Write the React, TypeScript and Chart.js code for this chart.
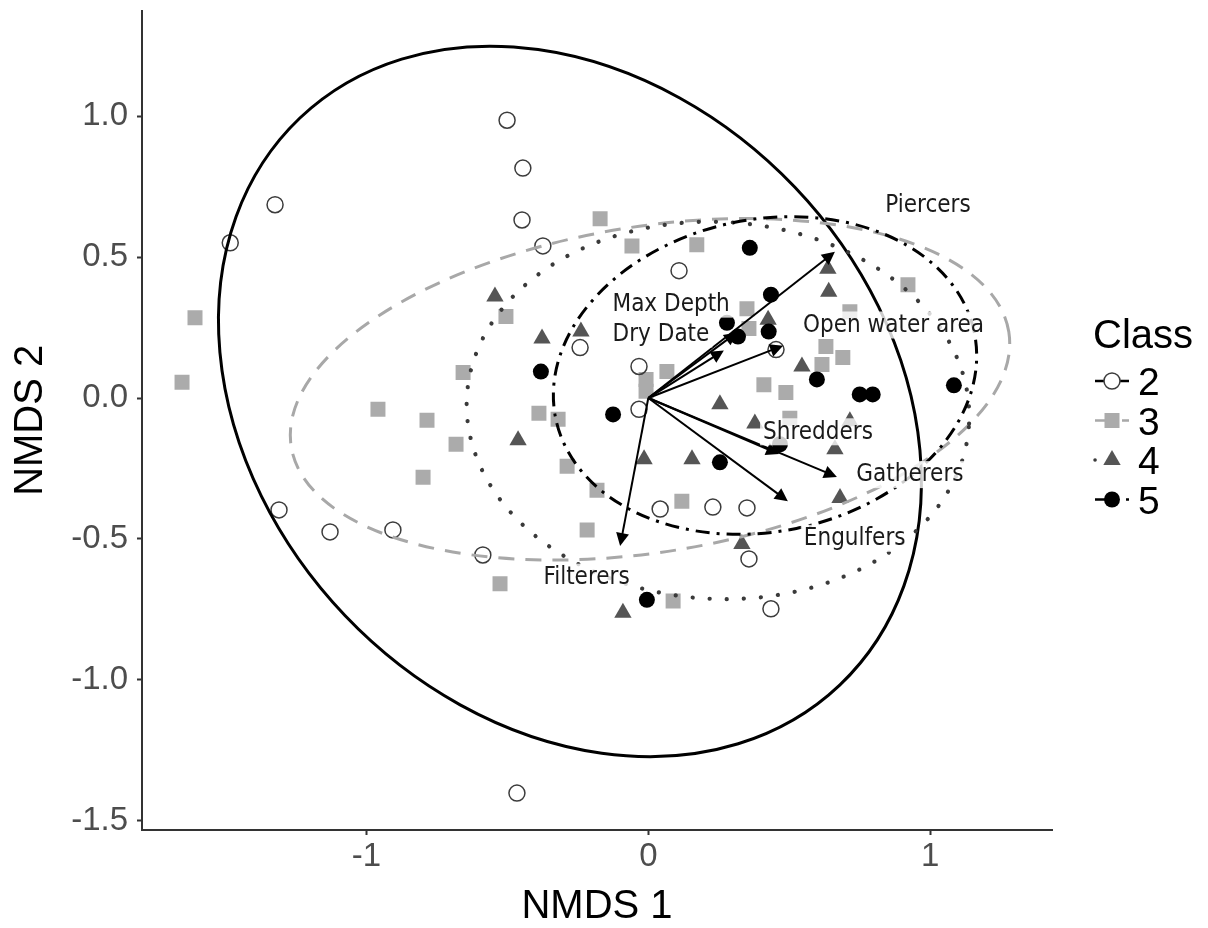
import React, { useEffect, useRef } from "react";
import { Chart, registerables } from "chart.js";

Chart.register(...registerables);

// ---------------- data ----------------
const CLASS_NAMES = ["2", "3", "4", "5"];

const CLASS2_X = [-1.483, -1.324, -0.501, -0.445, -0.448, -0.374, 0.109, -0.242, -0.033, -0.033, 0.453, -1.31, -1.129, -0.906, -0.587, 0.042, 0.229, 0.35, 0.357, 0.435, -0.466];
const CLASS2_Y = [0.551, 0.686, 0.986, 0.816, 0.632, 0.54, 0.452, 0.179, 0.112, -0.04, 0.172, -0.397, -0.475, -0.468, -0.557, -0.394, -0.387, -0.39, -0.571, -0.748, -1.402];

const CLASS3_X = [-1.608, -1.654, -0.171, -0.058, 0.172, -0.505, -0.657, -0.959, -0.785, -0.682, -0.799, -0.388, -0.32, -0.288, -0.182, -0.217, -0.526, 0.119, 0.088, -0.008, -0.008, 0.066, 0.35, 0.357, 0.41, 0.488, 0.63, 0.616, 0.69, 0.921, 0.715, 0.502];
const CLASS3_Y = [0.285, 0.056, 0.636, 0.54, 0.544, 0.289, 0.091, -0.04, -0.079, -0.164, -0.281, -0.054, -0.075, -0.242, -0.327, -0.468, -0.659, -0.366, -0.72, 0.066, 0.024, 0.094, 0.317, 0.247, 0.047, 0.02, 0.183, 0.119, 0.144, 0.402, 0.306, -0.072];

const CLASS4_X = [-0.544, -0.377, -0.239, -0.462, -0.015, 0.155, 0.254, -0.09, 0.332, 0.637, 0.64, 0.425, 0.545, 0.662, 0.68, 0.378, 0.715];
const CLASS4_Y = [0.36, 0.211, 0.236, -0.15, -0.217, -0.217, -0.022, -0.762, -0.518, 0.459, 0.377, 0.278, 0.112, -0.182, -0.355, -0.09, -0.082];

const CLASS5_X = [0.36, 0.435, 0.279, 0.318, 0.427, -0.381, -0.125, 0.254, 0.467, 0.598, 0.75, 0.796, 1.084, -0.005];
const CLASS5_Y = [0.533, 0.367, 0.267, 0.218, 0.236, 0.094, -0.058, -0.228, -0.164, 0.066, 0.013, 0.013, 0.045, -0.716];

// confidence ellipses per class (centre, semi-axes, rotation in degrees)
const ELLIPSE_CX = [-0.278, 0.006, 0.247, 0.414];
const ELLIPSE_CY = [-0.012, 0.031, -0.044, 0.08];
const ELLIPSE_A = [1.389, 1.289, 0.892, 0.758];
const ELLIPSE_B = [1.102, 0.578, 0.669, 0.554];
const ELLIPSE_ANGLE = [-46.4, 9.1, -3, 11.6];

// environmental / trait vectors
const VECTOR_NAMES = ["Piercers", "Max Depth", "Dry Date", "Open water area", "Shredders", "Gatherers", "Engulfers", "Filterers"];
const VECTOR_X = [0.662, 0.315, 0.268, 0.478, 0.464, 0.669, 0.495, -0.1];
const VECTOR_Y = [0.519, 0.233, 0.169, 0.186, -0.199, -0.28, -0.366, -0.525];
const LABEL_X = [0.992, 0.081, 0.045, 0.87, 0.602, 0.928, 0.732, -0.219];
const LABEL_Y = [0.685, 0.335, 0.229, 0.261, -0.118, -0.27, -0.496, -0.634];

const X_TICKS = [-1, 0, 1];
const Y_TICKS = [-1.5, -1.0, -0.5, 0.0, 0.5, 1.0];
const X_MIN = -1.796;
const X_MAX = 1.432;
const Y_MIN = -1.533;
const Y_MAX = 1.375;

// ---------------- styles ----------------
const SANS = "'Liberation Sans', Arial, Helvetica, sans-serif";
const LABEL_FONT = "24px 'DejaVu Sans Condensed', 'Liberation Sans Narrow', 'DejaVu Sans', sans-serif";
const ELL_COLOR = ["#000000", "#a8a8a8", "#3a3a3a", "#000000"];
const ELL_DASH = [[], [16, 11], [0.1, 17], [14, 7, 3, 7]];
const ELL_CAP: CanvasLineCap[] = ["butt", "butt", "round", "butt"];
const ELL_WIDTH = [3, 3, 4.2, 3];
const PT_COLOR = ["#3c3c3c", "#ababab", "#555555", "#000000"];

function drawMarker(ctx: CanvasRenderingContext2D, k: number, x: number, y: number) {
  ctx.save();
  ctx.setLineDash([]);
  if (k === 0) {
    ctx.beginPath();
    ctx.arc(x, y, 8, 0, Math.PI * 2);
    ctx.fillStyle = "#ffffff";
    ctx.fill();
    ctx.lineWidth = 1.5;
    ctx.strokeStyle = PT_COLOR[0];
    ctx.stroke();
  } else if (k === 1) {
    ctx.fillStyle = PT_COLOR[1];
    ctx.fillRect(x - 7.5, y - 7.5, 15, 15);
  } else if (k === 2) {
    ctx.beginPath();
    ctx.moveTo(x, y - 10);
    ctx.lineTo(x + 8.7, y + 5);
    ctx.lineTo(x - 8.7, y + 5);
    ctx.closePath();
    ctx.fillStyle = PT_COLOR[2];
    ctx.fill();
  } else {
    ctx.beginPath();
    ctx.arc(x, y, 8, 0, Math.PI * 2);
    ctx.fillStyle = PT_COLOR[3];
    ctx.fill();
  }
  ctx.restore();
}

const overlayPlugin = {
  id: "overlay",
  afterDatasetsDraw(chart: any) {
    const { ctx, chartArea, scales } = chart;
    const xs = scales.x;
    const ys = scales.y;
    ctx.save();
    ctx.beginPath();
    ctx.rect(chartArea.left, chartArea.top, chartArea.right - chartArea.left, chartArea.bottom - chartArea.top);
    ctx.clip();

    // ellipses
    const sx = Math.abs(xs.getPixelForValue(1) - xs.getPixelForValue(0));
    const sy = Math.abs(ys.getPixelForValue(0) - ys.getPixelForValue(1));
    for (let i = 0; i < ELLIPSE_CX.length; i++) {
      ctx.save();
      ctx.beginPath();
      ctx.save();
      ctx.translate(xs.getPixelForValue(ELLIPSE_CX[i]), ys.getPixelForValue(ELLIPSE_CY[i]));
      ctx.scale(sx, -sy);
      ctx.rotate((ELLIPSE_ANGLE[i] * Math.PI) / 180);
      ctx.ellipse(0, 0, ELLIPSE_A[i], ELLIPSE_B[i], 0, 0, Math.PI * 2);
      ctx.restore();
      ctx.setLineDash(ELL_DASH[i]);
      ctx.lineCap = ELL_CAP[i];
      ctx.lineWidth = ELL_WIDTH[i];
      ctx.strokeStyle = ELL_COLOR[i];
      ctx.stroke();
      ctx.restore();
    }

    // arrows
    const ox = xs.getPixelForValue(0);
    const oy = ys.getPixelForValue(0);
    ctx.setLineDash([]);
    ctx.strokeStyle = "#000";
    ctx.fillStyle = "#000";
    ctx.lineWidth = 2;
    ctx.lineCap = "butt";
    for (let i = 0; i < VECTOR_X.length; i++) {
      const tx = xs.getPixelForValue(VECTOR_X[i]);
      const ty = ys.getPixelForValue(VECTOR_Y[i]);
      const ang = Math.atan2(ty - oy, tx - ox);
      const L = 13;
      const W = 6.5;
      const bx = tx - Math.cos(ang) * L;
      const by = ty - Math.sin(ang) * L;
      ctx.beginPath();
      ctx.moveTo(ox, oy);
      ctx.lineTo(bx + Math.cos(ang) * 2, by + Math.sin(ang) * 2);
      ctx.stroke();
      ctx.beginPath();
      ctx.moveTo(tx, ty);
      ctx.lineTo(bx - Math.sin(ang) * W, by + Math.cos(ang) * W);
      ctx.lineTo(bx + Math.sin(ang) * W, by - Math.cos(ang) * W);
      ctx.closePath();
      ctx.fill();
    }

    // labels
    ctx.font = LABEL_FONT;
    ctx.textAlign = "center";
    ctx.textBaseline = "middle";
    for (let i = 0; i < VECTOR_NAMES.length; i++) {
      const cx = xs.getPixelForValue(LABEL_X[i]);
      const cy = ys.getPixelForValue(LABEL_Y[i]);
      const w = ctx.measureText(VECTOR_NAMES[i]).width;
      ctx.fillStyle = "rgba(255,255,255,0.8)";
      ctx.fillRect(cx - w / 2 - 3, cy - 13, w + 6, 27);
      ctx.fillStyle = "#1a1a1a";
      ctx.fillText(VECTOR_NAMES[i], cx, cy + 1);
    }
    ctx.restore();
  },
  afterDraw(chart: any) {
    const { ctx, chartArea } = chart;
    const x0 = chartArea.right + 41;
    ctx.save();
    ctx.fillStyle = "#000";
    ctx.textAlign = "left";
    ctx.textBaseline = "alphabetic";
    ctx.font = `40px ${SANS}`;
    ctx.fillText("Class", x0, 348);
    ctx.font = `39px ${SANS}`;
    for (let k = 0; k < CLASS_NAMES.length; k++) {
      const yc = 381 + 39.5 * k;
      const kx0 = x0 + 2;
      const kx1 = x0 + 36;
      ctx.save();
      ctx.beginPath();
      ctx.moveTo(kx0, yc);
      ctx.lineTo(kx1, yc);
      ctx.setLineDash(ELL_DASH[k]);
      ctx.lineCap = ELL_CAP[k];
      ctx.lineWidth = k === 2 ? 3.5 : 2.5;
      ctx.strokeStyle = ELL_COLOR[k];
      ctx.stroke();
      ctx.restore();
      drawMarker(ctx, k, (kx0 + kx1) / 2, yc);
      ctx.fillStyle = "#000";
      ctx.fillText(CLASS_NAMES[k], x0 + 45, yc + 14);
    }
    ctx.restore();
  },
};

function pts(xs: number[], ys: number[]) {
  return xs.map((x, i) => ({ x, y: ys[i] }));
}

export default function App() {
  const ref = useRef<HTMLCanvasElement | null>(null);
  useEffect(() => {
    const canvas = ref.current;
    if (!canvas) return;
    const chart = new Chart(canvas, {
      type: "scatter",
      data: {
        datasets: [
          {
            label: "2",
            data: pts(CLASS2_X, CLASS2_Y),
            pointStyle: "circle",
            pointRadius: 8,
            borderWidth: 1.5,
            borderColor: PT_COLOR[0],
            backgroundColor: "rgba(0,0,0,0)",
            order: 0,
          },
          {
            label: "5",
            data: pts(CLASS5_X, CLASS5_Y),
            pointStyle: "circle",
            pointRadius: 8,
            borderWidth: 0,
            backgroundColor: PT_COLOR[3],
            order: 1,
          },
          {
            label: "4",
            data: pts(CLASS4_X, CLASS4_Y),
            pointStyle: "triangle",
            pointRadius: 10,
            borderWidth: 0,
            backgroundColor: PT_COLOR[2],
            order: 2,
          },
          {
            label: "3",
            data: pts(CLASS3_X, CLASS3_Y),
            pointStyle: "rect",
            pointRadius: 10.6,
            borderWidth: 0,
            backgroundColor: PT_COLOR[1],
            order: 3,
          },
        ] as any,
      },
      options: {
        animation: false,
        responsive: true,
        maintainAspectRatio: false,
        events: [],
        layout: { padding: { left: 0, top: 8, right: 156, bottom: 0 } },
        plugins: { legend: { display: false }, tooltip: { enabled: false }, title: { display: false } },
        scales: {
          x: {
            type: "linear",
            min: X_MIN,
            max: X_MAX,
            bounds: "data",
            afterBuildTicks: (s: any) => {
              s.ticks = X_TICKS.map((v) => ({ value: v }));
            },
            afterFit: (s: any) => {
              s.height = 98;
              s.paddingLeft = 0;
              s.paddingRight = 0;
            },
            ticks: {
              callback: (v: any) => String(v),
              font: { family: SANS, size: 33, lineHeight: 1 },
              color: "#4d4d4d",
              padding: 5,
              maxRotation: 0,
            },
            grid: { display: true, drawOnChartArea: false, drawTicks: true, tickLength: 5, tickWidth: 2, tickColor: "#333333" },
            border: { display: true, color: "#333333", width: 2 },
            title: {
              display: true,
              text: "NMDS 1",
              color: "#000",
              font: { family: SANS, size: 40, lineHeight: 1 },
              padding: { top: 0, bottom: 1 },
            },
          },
          y: {
            type: "linear",
            min: Y_MIN,
            max: Y_MAX,
            bounds: "data",
            afterBuildTicks: (s: any) => {
              s.ticks = Y_TICKS.map((v) => ({ value: v }));
            },
            afterFit: (s: any) => {
              s.width = 142;
              s.paddingTop = 0;
              s.paddingBottom = 0;
            },
            ticks: {
              callback: (v: any) => Number(v).toFixed(1),
              font: { family: SANS, size: 33, lineHeight: 1 },
              color: "#4d4d4d",
              padding: 9,
            },
            grid: { display: true, drawOnChartArea: false, drawTicks: true, tickLength: 5, tickWidth: 2, tickColor: "#333333" },
            border: { display: true, color: "#333333", width: 2 },
            title: {
              display: true,
              text: "NMDS 2",
              color: "#000",
              font: { family: SANS, size: 40, lineHeight: 1 },
              padding: { top: 11, bottom: 0 },
            },
          },
        },
      } as any,
      plugins: [overlayPlugin],
    });
    return () => chart.destroy();
  }, []);

  return (
    <div style={{ position: "fixed", left: 0, top: 0, width: 1208, height: 928, background: "#ffffff" }}>
      <canvas ref={ref} />
    </div>
  );
}
